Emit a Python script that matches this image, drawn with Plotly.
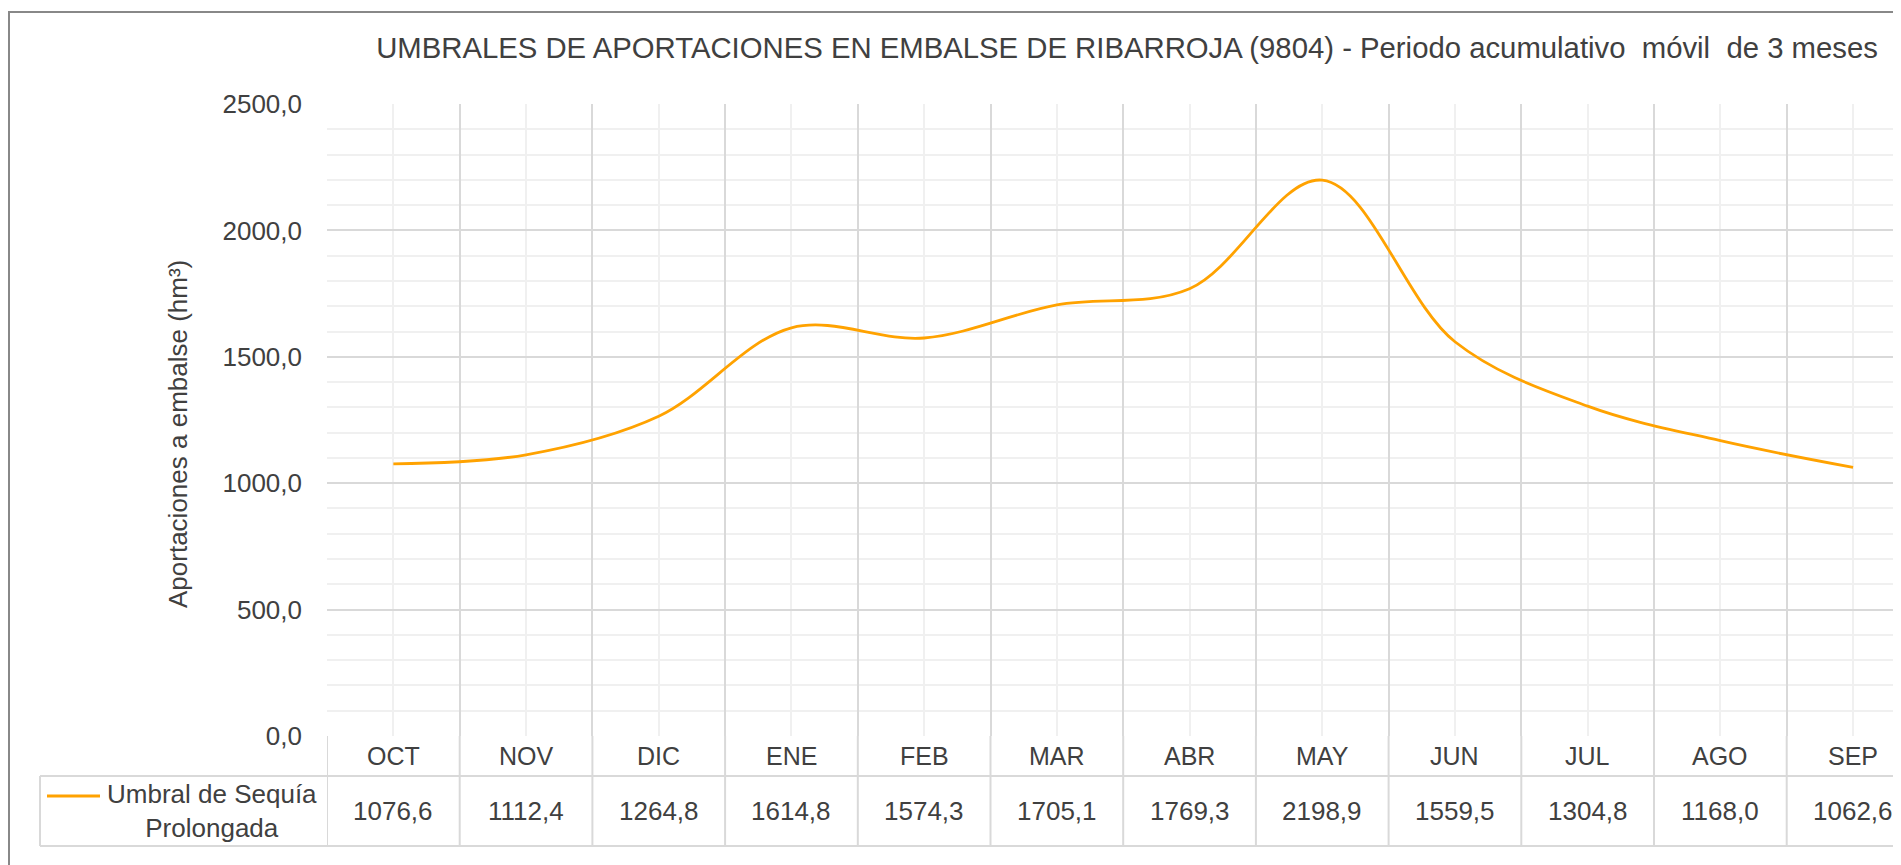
import plotly.graph_objects as go

# ---------------- data ----------------
months = ["OCT", "NOV", "DIC", "ENE", "FEB", "MAR", "ABR", "MAY", "JUN", "JUL", "AGO", "SEP"]
umbral_sequia = [1076.6, 1112.4, 1264.8, 1614.8, 1574.3, 1705.1, 1769.3, 2198.9, 1559.5, 1304.8, 1168.0, 1062.6]
series_name = "Umbral de Sequía<br>Prolongada"
y_ticks = [0, 500, 1000, 1500, 2000, 2500]
title_text = "UMBRALES DE APORTACIONES EN EMBALSE DE RIBARROJA (9804) - Periodo acumulativo  móvil  de 3 meses"
y_title = "Aportaciones a embalse (hm³)"

# ---------------- geometry (page pixels) ----------------
OFF = 8                               # default body margin of the html page
PAGE_W, PAGE_H = 1901, 865
W, H = PAGE_W - OFF, PAGE_H - OFF     # figure size
PL, PT, PB = 327, 104, 736            # plot left / top / bottom (page px)
CAT_W = 132.7                         # px per category
PW = PAGE_W - PL
PH = PB - PT
x_max = -0.5 + PW / CAT_W

ROW1_B = 776     # bottom of category row
ROW2_B = 846     # bottom of data row
LEG_L = 40       # left of legend cell


def px_x(px):
    return (px - PL) / PW


def px_y(py):
    return (PB - py) / PH


FONT = "Liberation Sans, Arial, sans-serif"
TXT = "#404040"
GRID = "#D9D9D9"
MINOR = "#F0F0F0"
ORANGE = "#FFA200"

fig = go.Figure()
fig.add_trace(go.Scatter(
    x=list(range(len(months))), y=umbral_sequia, mode="lines",
    line=dict(color=ORANGE, width=2.8, shape="spline", smoothing=1.0),
    name="Umbral de Sequía Prolongada", showlegend=False, hoverinfo="x+y",
))

boundaries = [i - 0.5 for i in range(len(months) + 1)]
centers = list(range(len(months)))

shapes = []
# table vertical lines (column boundaries)
for b in boundaries:
    shapes.append(dict(type="line", xref="x", yref="paper", x0=b, x1=b,
                       y0=0, y1=px_y(ROW2_B), line=dict(color=GRID, width=2)))
# horizontal table lines
for yy in (ROW1_B, ROW2_B):
    shapes.append(dict(type="line", xref="paper", yref="paper", x0=px_x(LEG_L), x1=1.02,
                       y0=px_y(yy), y1=px_y(yy), line=dict(color=GRID, width=2)))
# legend cell left border
shapes.append(dict(type="line", xref="paper", yref="paper", x0=px_x(LEG_L), x1=px_x(LEG_L),
                   y0=px_y(ROW1_B), y1=px_y(ROW2_B), line=dict(color=GRID, width=2)))
# legend key
shapes.append(dict(type="line", xref="paper", yref="paper", x0=px_x(47), x1=px_x(100),
                   y0=px_y(796), y1=px_y(796), line=dict(color=ORANGE, width=3)))
# chart border
shapes.append(dict(type="rect", xref="paper", yref="paper", x0=px_x(9), x1=1.05,
                   y0=px_y(12), y1=px_y(890), line=dict(color="#888888", width=2),
                   fillcolor="rgba(0,0,0,0)"))

annotations = []
for i, m in enumerate(months):
    annotations.append(dict(x=i, xref="x", y=px_y((PB + ROW1_B) / 2), yref="paper",
                            text=m, showarrow=False, xanchor="center", yanchor="middle",
                            font=dict(family=FONT, size=25, color=TXT)))
    annotations.append(dict(x=i, xref="x", y=px_y((ROW1_B + ROW2_B) / 2), yref="paper",
                            text=f"{umbral_sequia[i]:.1f}".replace(".", ","), showarrow=False,
                            xanchor="center", yanchor="middle",
                            font=dict(family=FONT, size=26, color=TXT)))
annotations.append(dict(x=px_x(212), xref="paper", y=px_y(811), yref="paper",
                        text=series_name, showarrow=False, xanchor="center", yanchor="middle",
                        align="center", font=dict(family=FONT, size=26, color=TXT)))
annotations.append(dict(x=px_x(178), xref="paper", y=px_y(434), yref="paper",
                        text=y_title, showarrow=False, textangle=-90,
                        xanchor="center", yanchor="middle",
                        font=dict(family=FONT, size=26, color=TXT)))

fig.update_layout(
    width=W, height=H,
    margin=dict(l=PL - OFF, r=0, t=PT - OFF, b=PAGE_H - PB, pad=0),
    paper_bgcolor="white", plot_bgcolor="white",
    separators=",.",
    title=dict(text=title_text, xref="container", yref="container",
               x=(1127 - OFF) / W, y=1 - (47.5 - OFF) / H, xanchor="center", yanchor="middle",
               font=dict(family=FONT, size=29.3, color=TXT)),
    xaxis=dict(range=[-0.5, x_max], tickmode="array", tickvals=boundaries,
               showticklabels=False, ticks="", showgrid=True, gridcolor=GRID, gridwidth=2,
               zeroline=False, showline=False,
               minor=dict(tickmode="array", tickvals=centers, showgrid=True,
                          gridcolor=MINOR, gridwidth=2, ticks="")),
    yaxis=dict(range=[0, 2500], tickmode="array", tickvals=y_ticks, tickformat=".1f",
               showgrid=True, gridcolor=GRID, gridwidth=2, zeroline=False, showline=False,
               ticks="", ticklabelstandoff=24,
               tickfont=dict(family=FONT, size=26, color=TXT),
               minor=dict(dtick=100, showgrid=True, gridcolor=MINOR, gridwidth=2, ticks="")),
    shapes=shapes, annotations=annotations,
    font=dict(family=FONT, color=TXT),
)

fig.write_html("out.html")
